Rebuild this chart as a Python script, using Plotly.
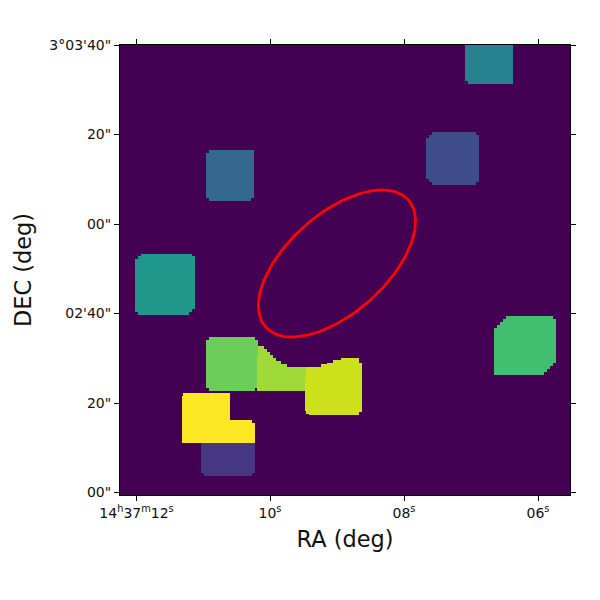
import numpy as np
import plotly.graph_objects as go

GRID = 300  # cells per side of the label image

x_tick_cols = [11, 100, 189.33, 278.67]
x_tick_text = ["14<sup>h</sup>37<sup>m</sup>12<sup>s</sup>", "10<sup>s</sup>", "08<sup>s</sup>", "06<sup>s</sup>"]
y_tick_rows = [0, 59.67, 119.33, 178.67, 238.67, 298]
y_tick_text = ["3°03'40\"", "20\"", "00\"", "02'40\"", "20\"", "00\""]

label_colors = ["#440154", "#453781", "#3e4c8a", "#35688e", "#26828e", "#1f988b",
                "#42be71", "#6ccd5a", "#a0da39", "#cde11d", "#fde725"]

# label, first row, end row, first col, end col, corner cuts (tl, tr, bl, br)
rounded_blobs = [
    (1, 265, 287, 54, 90, (0, 0, 4, 4)),
    (2, 58, 93, 204, 239, (6, 4, 6, 4)),
    (3, 70, 104, 57, 89, (4, 0, 4, 4)),
    (4, 0, 26, 230, 262, (0, 0, 4, 2)),
    (5, 139, 180, 10, 50, (6, 4, 4, 6)),
    (6, 181, 220, 249, 291, (9, 4, 0, 10)),
    (7, 195, 231, 57, 92, (4, 4, 4, 4)),
]
# label, first col, end col, first row, end row
light_green_columns = [
    (8, 91, 92, 208, 231), (8, 92, 96, 201, 231), (8, 96, 98, 203, 231),
    (8, 98, 100, 205, 231), (8, 100, 102, 207, 231), (8, 102, 104, 209, 231),
    (8, 104, 107, 211, 231), (8, 107, 111, 213, 231), (8, 111, 124, 215, 231),
]
yellow_green_columns = [
    (9, 123, 124, 222, 244), (9, 124, 126, 215, 246), (9, 126, 134, 215, 247),
    (9, 134, 138, 213, 247), (9, 138, 142, 212, 247), (9, 142, 147, 210, 247),
    (9, 147, 159, 209, 247), (9, 159, 161, 212, 245),
]
# label, first row, end row, first col, end col
yellow_rows = [
    (10, 232, 234, 42, 73), (10, 234, 250, 41, 73),
    (10, 250, 252, 41, 88), (10, 252, 265, 41, 90),
]

ellipse_center = (144.67, 145.67)
ellipse_axes = (63.7, 33.0)
ellipse_angle_deg = 41.7

z = np.zeros((GRID, GRID), dtype=int)
for lab, r0, r1, c0, c1, (tl, tr, bl, br) in rounded_blobs:
    z[r0:r1, c0:c1] = lab
    for (cut, top, left) in ((tl, True, True), (tr, True, False), (bl, False, True), (br, False, False)):
        for i in range(cut):
            for j in range(cut):
                if (i // 2) * 2 + (j // 2) * 2 < cut - 2:
                    z[r0 + i if top else r1 - 1 - i, c0 + j if left else c1 - 1 - j] = 0
for lab, c0, c1, r0, r1 in light_green_columns + yellow_green_columns:
    z[r0:r1, c0:c1] = lab
for lab, r0, r1, c0, c1 in yellow_rows:
    z[r0:r1, c0:c1] = lab

n = len(label_colors)
colorscale = []
for i, col in enumerate(label_colors):
    colorscale += [[i / n, col], [(i + 1) / n, col]]

t = np.radians(np.arange(0, 361, 2))
a, b = ellipse_axes
th = np.radians(ellipse_angle_deg)
ex = ellipse_center[0] + a * np.cos(t) * np.cos(th) - b * np.sin(t) * np.sin(th)
ey = ellipse_center[1] - a * np.cos(t) * np.sin(th) - b * np.sin(t) * np.cos(th)

fig = go.Figure()
fig.add_trace(go.Heatmap(z=z, x0=0.5, dx=1, y0=0.5, dy=1, zmin=0, zmax=n,
                         colorscale=colorscale, showscale=False, zsmooth=False, hoverinfo="skip"))
fig.add_trace(go.Scatter(x=ex, y=ey, mode="lines", line=dict(color="#ff0000", width=2.8), showlegend=False))

font = dict(family="DejaVu Sans", color="#111111", size=14)
title_font = dict(family="DejaVu Sans", size=22.4, color="#111111")
axis_common = dict(showgrid=False, zeroline=False, showline=True, linecolor="black", linewidth=1,
                   ticks="outside", ticklen=5, tickwidth=1, tickcolor="black", mirror="ticks", tickfont=font)
fig.update_xaxes(range=[0, GRID], tickmode="array", tickvals=x_tick_cols, ticktext=x_tick_text,
                 title=dict(text="RA (deg)", font=title_font, standoff=11),
                 **axis_common)
fig.update_yaxes(range=[GRID, 0], tickmode="array", tickvals=y_tick_rows, ticktext=y_tick_text,
                 ticklabelstandoff=0,
                 title=dict(text="DEC (deg)", font=title_font, standoff=11),
                 **axis_common)
fig.update_layout(width=600, height=600, margin=dict(l=112, r=38, t=37, b=113),
                  plot_bgcolor="#440154", paper_bgcolor="white", showlegend=False)
fig.write_html("out.html")
